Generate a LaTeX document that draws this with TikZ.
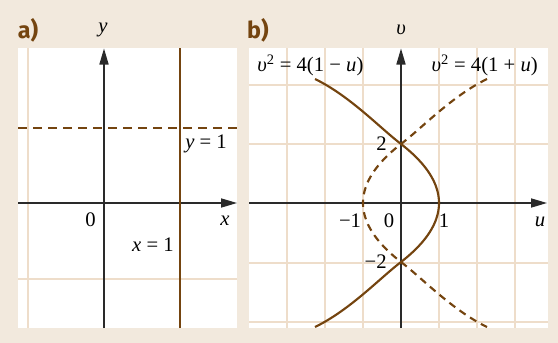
\documentclass[tikz,border=0pt]{standalone}
\usepackage{fontspec}
\setmainfont{Liberation Serif}
\newfontfamily\labfont{Fira Sans}
\usetikzlibrary{arrows.meta}
\definecolor{bg}{HTML}{F2E9DD}
\definecolor{gridc}{HTML}{EEDDCA}
\definecolor{brn}{HTML}{74440F}
\definecolor{axc}{HTML}{2A2A2A}
\newcommand{\vv}{\textit{υ}}
\tikzset{
  panel/.style={fill=white, draw=none},
  gridline/.style={draw=gridc, line width=1.1pt},
  axis/.style={draw=axc, line width=1.1pt, -{Triangle[length=12pt,width=6.8pt]}},
  curve/.style={draw=brn, line width=1.6pt},
  dcurve/.style={draw=brn, line width=1.6pt, dash pattern=on 5.5pt off 4pt},
  dline/.style={draw=brn, line width=1.6pt, dash pattern=on 6.75pt off 4.5pt},
  lbl/.style={inner sep=0pt, font=\fontsize{15.5}{18}\selectfont},
  plab/.style={inner sep=0pt, text=brn, font=\fontsize{17.5}{20}\selectfont\labfont\bfseries},
}
\begin{document}
\begin{tikzpicture}[x=0.75pt, y=-0.75pt]
\useasboundingbox (0,0) rectangle (558,343);
\fill[bg] (0,0) rectangle (558,343);
% ---------- panel a ----------
\fill[white] (18,48) rectangle (237,328);
\draw[gridline] (28,48) -- (28,328);
\draw[gridline] (18,279) -- (237,279);
\coordinate (axL) at (18,203);
\coordinate (axR) at (237,203);
\coordinate (ayB) at (104,328);
\coordinate (ayT) at (104,48.5);
\draw[axis] (axL) -- (axR);
\draw[axis] (ayB) -- (ayT);
\coordinate (x1B) at (180,328);
\coordinate (x1T) at (180,48);
\draw[curve] (x1B) -- (x1T);
\coordinate (y1L) at (18,128);
\coordinate (y1R) at (237,128);
\draw[dline] (y1L) -- (y1R);
\node[plab] (la) at (28,30) {a)};
\node[lbl] (ly) at (103,30) {\textit{y}};
\node[lbl] (l0a) at (90.5,220) {0};
\node[lbl] (lx) at (225,221) {\textit{x}};
\node[lbl, anchor=east] (lx1) at (174,245) {\textit{x} = 1};
\node[lbl, anchor=west] (ly1) at (185,144) {\textit{y} = 1};
% ---------- panel b ----------
\fill[white] (249,48) rectangle (548,328);
\foreach \gx in {287,325,363,439,477,515} \draw[gridline] (\gx,48) -- (\gx,328);
\foreach \gy in {85,144,263,322} \draw[gridline] (249,\gy) -- (548,\gy);
\coordinate (auL) at (249,203);
\coordinate (auR) at (547,203);
\coordinate (avB) at (401,328);
\coordinate (avT) at (401,48.5);
\draw[axis] (auL) -- (auR);
\draw[axis] (avB) -- (avT);
\begin{scope}
\clip (249,48) rectangle (548,328);
\draw[curve] (315,79) .. controls (350,96) and (380,128) .. (401,144)
  -- plot[domain=2:-2, samples=61] ({401+38*(1-\x*\x/4)},{203-29.5*\x})
  .. controls (380,278) and (350,310) .. (315,327);
\draw[dcurve] (487,79) .. controls (452,96) and (422,128) .. (401,144)
  -- plot[domain=2:-2, samples=61] ({401-38*(1-\x*\x/4)},{203-29.5*\x})
  .. controls (422,278) and (452,310) .. (487,327);
\end{scope}
\node[plab] (lb) at (258,30) {b)};
\node[lbl] (lv) at (401,30) {\vv};
\node[lbl, anchor=west] (eq1) at (257,65) {\vv\textsuperscript{2} = 4(1 − \textit{u})};
\node[lbl, anchor=east] (eq2) at (538,65) {\vv\textsuperscript{2} = 4(1 + \textit{u})};
\node[lbl] (l2) at (381.5,143.5) {2};
\node[lbl, anchor=east] (lm2) at (387,262) {−2};
\node[lbl] (lm1) at (350,221) {−1};
\node[lbl] (l0b) at (389,221) {0};
\node[lbl] (l1) at (444,221) {1};
\node[lbl] (lu) at (540,222) {\textit{u}};
\end{tikzpicture}
\end{document}
